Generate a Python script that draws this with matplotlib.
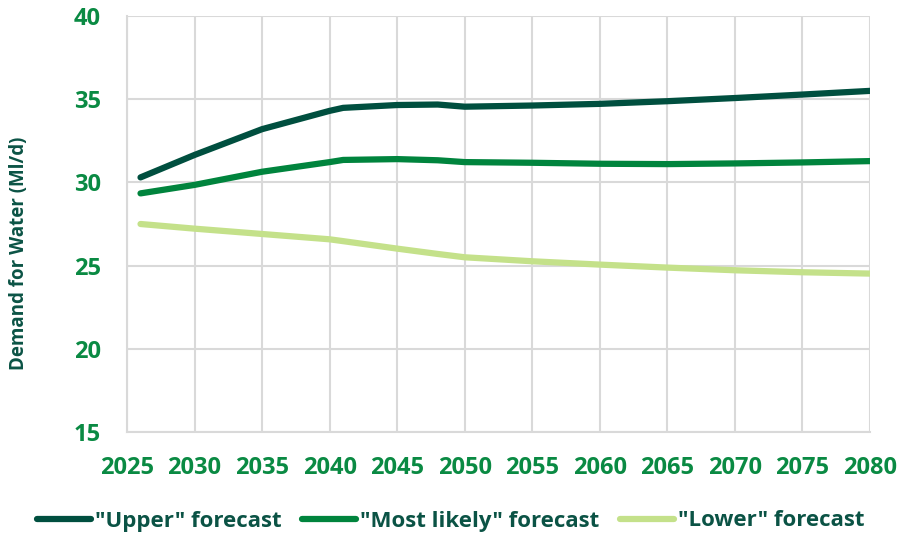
import matplotlib
matplotlib.use("Agg")
import matplotlib.pyplot as plt

years = [2026, 2030, 2035, 2040, 2041, 2045, 2048, 2050, 2055, 2060, 2065, 2070, 2075, 2080]
upper = [30.3, 31.65, 33.2, 34.3, 34.48, 34.65, 34.68, 34.55, 34.62, 34.72, 34.88, 35.07, 35.28, 35.5]
most_likely = [29.34, 29.85, 30.64, 31.22, 31.35, 31.4, 31.33, 31.22, 31.18, 31.12, 31.1, 31.14, 31.2, 31.28]
lower = [27.5, 27.22, 26.9, 26.58, 26.47, 26.02, 25.7, 25.5, 25.26, 25.06, 24.88, 24.72, 24.6, 24.52]
series_names = ['"Upper" forecast', '"Most likely" forecast', '"Lower" forecast']
x_ticks = list(range(2025, 2081, 5))
y_ticks = [15, 20, 25, 30, 35, 40]

colors = ["#004F3F", "#00843D", "#C4E18A"]
tick_color = "#0A8A43"
text_color = "#0B5345"

plt.rcParams['font.family'] = ['Open Sans', 'DejaVu Sans']
plt.rcParams['font.weight'] = 'bold'

fig = plt.figure(figsize=(8.98, 5.4), dpi=100)
ax = fig.add_axes([127/898, 1-432/540, (870-127)/898, (432-16)/540])

for vals, c, name in zip([upper, most_likely, lower], colors, series_names):
    ax.plot(years, vals, color=c, lw=4.5, solid_capstyle='round', solid_joinstyle='round', label=name, zorder=3)

ax.set_xlim(2025, 2080)
ax.set_ylim(15, 40)
ax.set_xticks(x_ticks)
ax.set_yticks(y_ticks)
ax.grid(True, color="#D9D9D9", lw=1.5, zorder=0)
for s in ['top', 'right']:
    ax.spines[s].set_visible(False)
for s in ['left', 'bottom']:
    ax.spines[s].set_color("#D9D9D9")
    ax.spines[s].set_linewidth(1.5)
ax.tick_params(axis='both', length=0, labelsize=17, labelcolor=tick_color)
ax.tick_params(axis='y', pad=19)
ax.tick_params(axis='x', pad=17)
for lab in ax.get_xticklabels() + ax.get_yticklabels():
    lab.set_fontweight('bold')

ax.set_ylabel("Demand for Water (Ml/d)", fontsize=13.5, fontweight='bold', color=text_color)
ax.yaxis.set_label_coords(-0.132, 0.43)

leg = fig.legend(loc='center', bbox_to_anchor=(0.502, 1-521/540), ncol=3, frameon=False,
                 fontsize=16, handlelength=2.43, handletextpad=0.2, columnspacing=0.9)
for t in leg.get_texts():
    t.set_color(text_color)
    t.set_fontweight('bold')

fig.savefig("out.png", dpi=100)
